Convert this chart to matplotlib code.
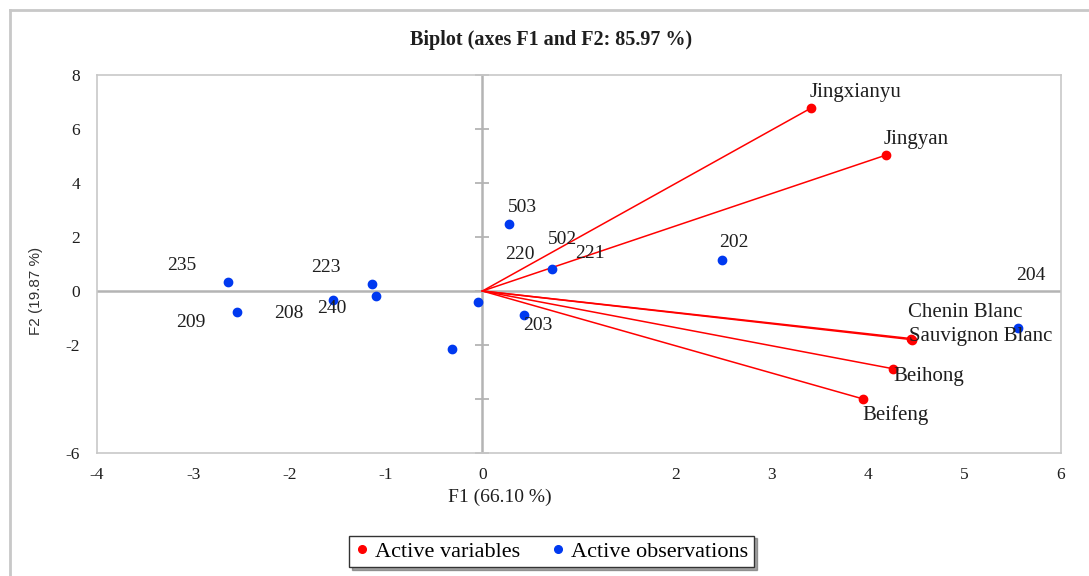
import matplotlib
matplotlib.use("Agg")
import matplotlib.pyplot as plt
import numpy as np
from matplotlib.lines import Line2D

# ---- data ----
var_names = ["Jingxianyu", "Jingyan", "Chenin Blanc", "Sauvignon Blanc", "Beihong", "Beifeng"]
var_x = [3.41, 4.19, 4.44, 4.45, 4.26, 3.95]
var_y = [6.78, 5.04, -1.76, -1.80, -2.88, -4.00]

obs_x = [-2.64, -2.54, -1.55, -1.15, -1.10, -0.05, -0.32, 0.28, 0.72, 0.43, 2.48, 5.55]
obs_y = [0.32, -0.77, -0.33, 0.26, -0.17, -0.42, -2.14, 2.48, 0.80, -0.90, 1.15, -1.37]

obs_labels = ["235", "209", "208", "240", "223", "503", "502", "220", "221", "203", "202", "204"]

xticks = [-4, -3, -2, -1, 0, 2, 3, 4, 5, 6]
yticks = [8, 6, 4, 2, 0, -2, -6]
axis_marks = [-6, -4, -2, 0, 2, 4, 6, 8]

title = "Biplot (axes F1 and F2: 85.97 %)"
xlabel = "F1 (66.10 %)"
ylabel = "F2 (19.87 %)"

# ---- layout (label text positions, data coordinates) ----
var_label_pos = [(3.87, 7.35), (4.50, 5.62), (5.01, -0.81), (5.17, -1.67), (4.63, -3.15), (4.28, -4.59)]
obs_label_pos = [(-3.12, 0.96), (-3.02, -1.17), (-2.01, -0.85), (-1.56, -0.65), (-1.62, 0.88),
                 (0.41, 3.10), (0.83, 1.89), (0.39, 1.36), (1.12, 1.40), (0.57, -1.26),
                 (2.61, 1.79), (5.69, 0.56)]

serif = ["Liberation Serif", "DejaVu Serif"]
sans = ["Liberation Sans", "DejaVu Sans"]
red = "#ff0000"
blue = "#0039f0"
grey = "#b4b4b4"
txt = "#1e1e1e"

fig = plt.figure(figsize=(10.89, 5.76), dpi=100)
ax = fig.add_axes([0.0888, 0.2135, 0.8855, 0.6563])
ax.set_xlim(-4, 6)
ax.set_ylim(-6, 8)

for s in ax.spines.values():
    s.set_color("#c8c8c8")
    s.set_linewidth(1.2)

ax.axhline(0, color=grey, lw=1.8, zorder=1)
ax.axvline(0, color=grey, lw=1.8, zorder=1)
ax.plot(np.zeros(len(axis_marks)), axis_marks, ls="none", marker="_", ms=10, mew=1.3,
        color=grey, zorder=1, clip_on=False)

# variable vectors
for x, y in zip(var_x, var_y):
    ax.plot([0, x], [0, y], color=red, lw=1.1, zorder=2)
ax.plot(var_x, var_y, ls="none", marker="o", ms=6, color=red, zorder=3)
ax.plot(obs_x, obs_y, ls="none", marker="o", ms=6, color=blue, zorder=3)

for name, (lx, ly) in zip(var_names, var_label_pos):
    ax.text(lx, ly, name, ha="center", va="center", fontsize=15, family=serif, color=txt, zorder=4)
for name, (lx, ly) in zip(obs_labels, obs_label_pos):
    ax.text(lx, ly, name, ha="center", va="center", fontsize=14, family=serif, color=txt, zorder=4)

ax.set_xticks(xticks)
ax.set_xticklabels([str(t) for t in xticks])
ax.set_yticks(yticks)
ax.set_yticklabels([str(t) for t in yticks])
ax.tick_params(length=0, labelsize=12.5, labelcolor=txt)
ax.tick_params(axis="x", pad=10)
ax.tick_params(axis="y", pad=12)
for lab in ax.get_xticklabels() + ax.get_yticklabels():
    lab.set_family(serif)

fig.text(0.506, 0.9306, title, ha="center", va="center", fontsize=14.5, fontweight="bold", family=serif, color=txt)
fig.text(0.459, 0.137, xlabel, ha="center", va="center", fontsize=14, family=serif, color=txt)
fig.text(0.033, 0.4948, ylabel, ha="center", va="center", rotation=90, fontsize=11, family=sans, color="#333333")

handles = [Line2D([], [], ls="none", marker="o", ms=5.5, color=red),
           Line2D([], [], ls="none", marker="o", ms=5.5, color=blue)]
leg = fig.legend(handles, ["Active variables", "Active observations"], loc="center",
                 bbox_to_anchor=(0.5065, 0.0425), ncol=2, frameon=True, fancybox=False,
                 shadow=True, edgecolor="#333333", prop={"family": serif, "size": 16},
                 handlelength=0.6, handletextpad=0.3, columnspacing=1.4, borderpad=0.25,
                 borderaxespad=0)
leg.get_frame().set_linewidth(1.0)

# outer border (left and top edges)
fig.add_artist(Line2D([10 / 1089, 10 / 1089], [0, 1 - 10 / 576], transform=fig.transFigure, color="#c8c8c8", lw=2))
fig.add_artist(Line2D([10 / 1089, 1], [1 - 10 / 576, 1 - 10 / 576], transform=fig.transFigure, color="#c8c8c8", lw=2))

fig.savefig("out.png", dpi=100)
